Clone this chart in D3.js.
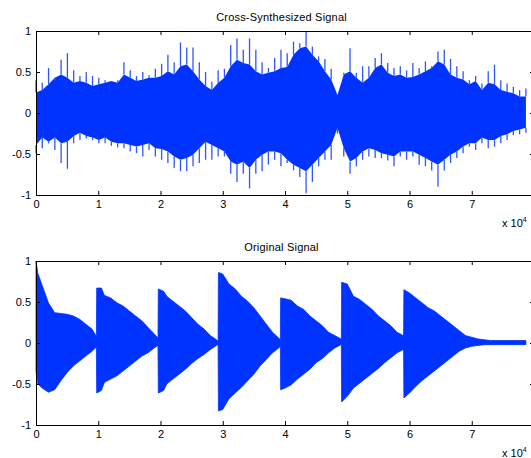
<!DOCTYPE html>
<html>
<head>
<meta charset="utf-8">
<script src="https://cdn.jsdelivr.net/npm/d3@7"></script>
<style>
  body { margin: 0; background: #fff; }
  text { font-family: "Liberation Sans", Arial, sans-serif; fill: #000; }
</style>
</head>
<body>
<svg id="chart" width="531" height="458"></svg>
<script>
// cross-synthesized signal, read every ~1000 samples: spike tips and solid body
const crossLength = 78700;
const crossPeakHi = [0.40,0.37,0.55,0.40,0.65,0.73,0.52,0.45,0.50,0.45,
  0.43,0.40,0.38,0.40,0.62,0.52,0.45,0.50,0.46,0.54,
  0.60,0.71,0.62,0.86,0.80,0.80,0.62,0.50,0.38,0.52,
  0.54,0.83,0.91,0.77,0.91,0.77,0.62,0.55,0.67,0.77,
  0.73,0.87,0.85,0.99,0.81,0.69,0.66,0.54,0.22,0.49,
  0.79,0.49,0.57,0.57,0.67,0.73,0.61,0.55,0.57,0.52,
  0.61,0.55,0.63,0.57,0.75,0.77,0.66,0.57,0.51,0.40,
  0.45,0.36,0.51,0.59,0.40,0.36,0.32,0.28,0.30];
const crossPeakLo = [-0.49,-0.43,-0.37,-0.45,-0.61,-0.68,-0.37,-0.33,-0.31,-0.33,
  -0.37,-0.37,-0.40,-0.42,-0.43,-0.47,-0.49,-0.53,-0.45,-0.53,
  -0.57,-0.61,-0.67,-0.71,-0.71,-0.65,-0.61,-0.57,-0.57,-0.53,
  -0.53,-0.74,-0.84,-0.74,-0.92,-0.74,-0.71,-0.63,-0.57,-0.65,
  -0.61,-0.70,-0.78,-0.98,-0.84,-0.65,-0.57,-0.57,-0.25,-0.53,
  -0.74,-0.65,-0.57,-0.53,-0.55,-0.55,-0.58,-0.65,-0.53,-0.57,
  -0.53,-0.63,-0.65,-0.70,-0.90,-0.70,-0.61,-0.55,-0.49,-0.41,
  -0.45,-0.37,-0.43,-0.41,-0.37,-0.33,-0.27,-0.26,-0.24];
const crossBodyHi = [0.25,0.28,0.35,0.43,0.47,0.43,0.37,0.39,0.37,0.33,
  0.35,0.37,0.39,0.37,0.47,0.43,0.39,0.41,0.43,0.43,
  0.45,0.51,0.47,0.57,0.59,0.51,0.41,0.33,0.28,0.37,
  0.43,0.57,0.65,0.61,0.59,0.51,0.47,0.49,0.51,0.55,
  0.56,0.71,0.79,0.81,0.71,0.63,0.51,0.41,0.22,0.47,
  0.51,0.43,0.37,0.43,0.55,0.59,0.49,0.45,0.47,0.43,
  0.44,0.47,0.51,0.55,0.63,0.59,0.47,0.43,0.41,0.35,
  0.39,0.28,0.37,0.35,0.28,0.26,0.24,0.20,0.20];
const crossBodyLo = [-0.39,-0.30,-0.35,-0.30,-0.37,-0.35,-0.28,-0.24,-0.28,-0.30,
  -0.33,-0.30,-0.35,-0.37,-0.37,-0.39,-0.41,-0.39,-0.37,-0.43,
  -0.44,-0.47,-0.53,-0.57,-0.55,-0.51,-0.43,-0.35,-0.39,-0.43,
  -0.47,-0.59,-0.63,-0.59,-0.67,-0.57,-0.51,-0.47,-0.47,-0.49,
  -0.57,-0.63,-0.67,-0.71,-0.63,-0.55,-0.47,-0.39,-0.18,-0.43,
  -0.59,-0.55,-0.47,-0.43,-0.45,-0.49,-0.51,-0.53,-0.47,-0.47,
  -0.47,-0.51,-0.55,-0.59,-0.63,-0.57,-0.51,-0.47,-0.41,-0.37,
  -0.37,-0.30,-0.33,-0.33,-0.28,-0.26,-0.22,-0.20,-0.18];

// original signal: seven decaying notes, envelope at read sample positions
const origX = [0,300,1000,2000,3000,4000,5000,6000,7000,8000,9000,9700,
  9750,10500,11000,12000,13000,14000,15000,16000,17000,18000,19000,19600,
  19650,20500,21000,22000,23000,24000,25000,26000,27000,28000,29000,29250,
  29300,30000,31000,32000,33000,34000,35000,36000,37000,38000,39000,39250,
  39300,40000,41000,42000,43000,44000,45000,46000,47000,48000,49000,49050,
  49100,50000,51000,52000,53000,54000,55000,56000,57000,58000,59000,59050,
  59100,60000,61000,62000,63000,64000,65000,66000,67000,68000,69000,70000,
  71000,72000,73000,75000,78700];
const origHi = [1.00,0.85,0.70,0.49,0.37,0.36,0.35,0.33,0.29,0.23,0.17,0.08,
  0.67,0.67,0.58,0.55,0.49,0.45,0.39,0.33,0.27,0.19,0.11,0.06,
  0.66,0.63,0.57,0.51,0.45,0.39,0.31,0.23,0.17,0.09,0.04,0.02,
  0.86,0.84,0.72,0.66,0.57,0.51,0.43,0.33,0.23,0.13,0.06,0.04,
  0.55,0.54,0.52,0.45,0.41,0.33,0.27,0.21,0.13,0.09,0.05,0.04,
  0.74,0.72,0.57,0.53,0.47,0.41,0.33,0.27,0.21,0.13,0.09,0.08,
  0.65,0.61,0.55,0.49,0.43,0.39,0.33,0.27,0.21,0.15,0.09,0.07,
  0.05,0.04,0.03,0.03,0.03];
const origLo = [-0.35,-0.50,-0.55,-0.60,-0.57,-0.46,-0.36,-0.28,-0.22,-0.16,-0.10,-0.05,
  -0.61,-0.58,-0.48,-0.44,-0.40,-0.34,-0.28,-0.22,-0.16,-0.12,-0.06,-0.03,
  -0.61,-0.58,-0.50,-0.44,-0.38,-0.32,-0.25,-0.19,-0.14,-0.08,-0.03,-0.02,
  -0.83,-0.81,-0.68,-0.61,-0.54,-0.46,-0.38,-0.28,-0.20,-0.12,-0.06,-0.04,
  -0.57,-0.55,-0.51,-0.44,-0.38,-0.32,-0.24,-0.19,-0.12,-0.06,-0.02,-0.02,
  -0.72,-0.65,-0.55,-0.49,-0.43,-0.37,-0.31,-0.24,-0.18,-0.12,-0.08,-0.07,
  -0.67,-0.61,-0.53,-0.46,-0.40,-0.34,-0.28,-0.22,-0.16,-0.10,-0.06,-0.04,
  -0.03,-0.02,-0.02,-0.02,-0.02];

const xTicks = [0, 1, 2, 3, 4, 5, 6, 7, 8];   // x 10^4, the 8 sits on the clipped right edge
const yTicks = [-1, -0.5, 0, 0.5, 1];
const titles = ["Cross-Synthesized Signal", "Original Signal"];

const blue = "#0033ff";
const spikeBlue = "#2f55ff";
const left = 36, right = 534, plotHeight = 164;
const panelTops = [31, 261];

const svg = d3.select("#chart");
const x = d3.scaleLinear().domain([0, 80000]).range([left, right]);

const crossStep = crossLength / (crossPeakHi.length - 1);
const crossX = crossPeakHi.map((d, i) => i * crossStep);

function drawAxes(g, y, top, title) {
  const bottom = top + plotHeight;

  g.append("g")
    .attr("transform", `translate(0,${bottom})`)
    .call(d3.axisBottom(x).tickValues(xTicks.map(d => d * 1e4))
      .tickFormat(d => (d < 80000 ? String(d / 1e4) : "")).tickSize(-4).tickPadding(5))
    .call(a => a.select(".domain").remove());
  g.append("g")
    .attr("transform", `translate(0,${top})`)
    .call(d3.axisTop(x).tickValues(xTicks.map(d => d * 1e4)).tickFormat("").tickSize(-4))
    .call(a => a.select(".domain").remove());
  g.append("g")
    .attr("transform", `translate(${left},0)`)
    .call(d3.axisLeft(y).tickValues(yTicks).tickFormat(d => String(d)).tickSize(-4).tickPadding(5))
    .call(a => a.select(".domain").remove());
  g.append("g")
    .attr("transform", `translate(${right},0)`)
    .call(d3.axisRight(y).tickValues(yTicks).tickFormat("").tickSize(-4))
    .call(a => a.select(".domain").remove());

  g.selectAll(".tick line").attr("stroke", "#000");
  g.selectAll(".tick text")
    .style("font-size", "11px")
    .style("font-family", '"Liberation Sans", Arial, sans-serif');

  g.append("rect")
    .attr("x", left + 0.5).attr("y", top + 0.5)
    .attr("width", right - left).attr("height", plotHeight)
    .attr("fill", "none").attr("stroke", "#000");

  g.append("text")
    .attr("x", 281.5).attr("y", top - 10)
    .attr("text-anchor", "middle")
    .style("font-size", "11px")
    .style("letter-spacing", "0.2px")
    .text(title);

  const exp = g.append("text")
    .attr("x", 502).attr("y", bottom + 32)
    .style("font-size", "11px");
  exp.append("tspan").text("x 10");
  exp.append("tspan").attr("dy", -5).style("font-size", "7px").text("4");
}

// top panel
{
  const top = panelTops[0];
  const y = d3.scaleLinear().domain([-1, 1]).range([top + plotHeight, top]);
  const g = svg.append("g");

  g.append("path")
    .datum(crossX)
    .attr("fill", blue)
    .attr("d", d3.area()
      .x(d => x(d))
      .y0((d, i) => y(crossBodyLo[i]))
      .y1((d, i) => y(crossBodyHi[i])));

  g.selectAll(".spike-hi")
    .data(crossX)
    .join("line")
    .attr("class", "spike-hi")
    .attr("x1", d => x(d)).attr("x2", d => x(d))
    .attr("y1", (d, i) => y(crossBodyHi[i]))
    .attr("y2", (d, i) => y(crossPeakHi[i]))
    .attr("stroke", spikeBlue).attr("stroke-width", 1.3);

  g.selectAll(".spike-lo")
    .data(crossX)
    .join("line")
    .attr("class", "spike-lo")
    .attr("x1", d => x(d)).attr("x2", d => x(d))
    .attr("y1", (d, i) => y(crossBodyLo[i]))
    .attr("y2", (d, i) => y(crossPeakLo[i]))
    .attr("stroke", spikeBlue).attr("stroke-width", 1.3);

  drawAxes(g, y, top, titles[0]);
}

// bottom panel
{
  const top = panelTops[1];
  const y = d3.scaleLinear().domain([-1, 1]).range([top + plotHeight, top]);
  const g = svg.append("g");

  g.append("path")
    .datum(origX)
    .attr("fill", blue)
    .attr("stroke", blue)
    .attr("stroke-width", 0.8)
    .attr("d", d3.area()
      .x(d => x(d))
      .y0((d, i) => y(origLo[i]))
      .y1((d, i) => y(origHi[i])));

  drawAxes(g, y, top, titles[1]);
}
</script>
</body>
</html>
